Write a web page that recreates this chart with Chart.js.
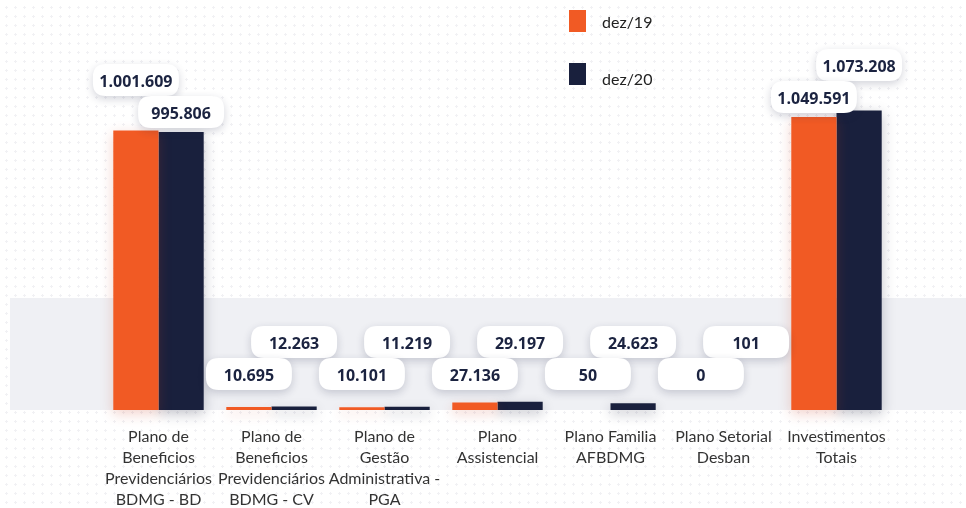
<!DOCTYPE html>
<html lang="pt-BR">
<head>
<meta charset="utf-8">
<title>Investimentos dez/19 x dez/20</title>
<script src="https://cdn.jsdelivr.net/npm/chart.js@4.4.1/dist/chart.umd.min.js"></script>
<style>
  html, body { margin: 0; padding: 0; background: #fff; }
  #wrap {
    position: relative;
    width: 966px;
    height: 508px;
    background-color: #fff;
    background-image: radial-gradient(circle, #f1f1f4 1px, transparent 1.2px);
    background-size: 9px 9px;
    background-position: 11px 3px;
  }
</style>
</head>
<body>
<div id="wrap"><canvas id="grafico" width="966" height="508"></canvas></div>
<script>
// Dados do gráfico
const categorias = [
  ['Plano de', 'Beneficios', 'Previdenciários', 'BDMG - BD'],
  ['Plano de', 'Beneficios', 'Previdenciários', 'BDMG - CV'],
  ['Plano de', 'Gestão', 'Administrativa -', 'PGA'],
  ['Plano', 'Assistencial'],
  ['Plano Familia', 'AFBDMG'],
  ['Plano Setorial', 'Desban'],
  ['Investimentos', 'Totais']
];
const series = ['dez/19', 'dez/20'];
const valoresDez19 = [1001609, 10695, 10101, 27136, 50, 0, 1049591];
const valoresDez20 = [995806, 12263, 11219, 29197, 24623, 101, 1073208];

const LARANJA = '#F15A24';
const AZUL = '#19203D';

function formatar(v) {
  return v.toLocaleString('de-DE');
}

function caixa(ctx, x, y, w, h, r) {
  ctx.beginPath();
  ctx.moveTo(x + r, y);
  ctx.lineTo(x + w - r, y);
  ctx.quadraticCurveTo(x + w, y, x + w, y + r);
  ctx.lineTo(x + w, y + h - r);
  ctx.quadraticCurveTo(x + w, y + h, x + w - r, y + h);
  ctx.lineTo(x + r, y + h);
  ctx.quadraticCurveTo(x, y + h, x, y + h - r);
  ctx.lineTo(x, y + r);
  ctx.quadraticCurveTo(x, y, x + r, y);
  ctx.closePath();
}

// Faixa cinza de fundo
const faixaPlugin = {
  id: 'faixa',
  beforeDatasetsDraw(chart) {
    const ctx = chart.ctx;
    const base = chart.scales.y.getPixelForValue(0);
    ctx.save();
    ctx.fillStyle = '#EFF0F4';
    ctx.fillRect(10, 298, chart.width - 10, base - 298);
    ctx.restore();
  }
};

// Sombra das barras
const sombraPlugin = {
  id: 'sombra',
  beforeDatasetDraw(chart, args) {
    const ctx = chart.ctx;
    ctx.save();
    ctx.shadowColor = args.index === 0 ? 'rgba(200,60,30,0.22)' : 'rgba(20,25,50,0.25)';
    ctx.shadowBlur = 12;
    ctx.shadowOffsetY = 4;
  },
  afterDatasetDraw(chart) {
    chart.ctx.restore();
  }
};

// Rótulos de valor em caixas brancas
const rotulosPlugin = {
  id: 'rotulos',
  afterDatasetsDraw(chart) {
    const ctx = chart.ctx;
    const m0 = chart.getDatasetMeta(0);
    const m1 = chart.getDatasetMeta(1);
    const W = 86, H = 32;

    categorias.forEach((_, i) => {
      const v0 = valoresDez19[i];
      const v1 = valoresDez20[i];
      const b0 = m0.data[i];
      const b1 = m1.data[i];
      // barra menor fica com o rótulo de baixo
      const menor = v0 <= v1 ? 0 : 1;
      const barraMenor = menor === 0 ? b0 : b1;
      const yBaixo = Math.min(barraMenor.y - 19, 375);
      const yCima = yBaixo - 32;
      const itens = [
        { bar: menor === 0 ? b1 : b0, v: menor === 0 ? v1 : v0, y: yCima },
        { bar: barraMenor, v: menor === 0 ? v0 : v1, y: yBaixo }
      ];
      itens.forEach(it => {
        ctx.save();
        ctx.shadowColor = 'rgba(30,35,70,0.20)';
        ctx.shadowBlur = 8;
        ctx.shadowOffsetY = 3;
        ctx.fillStyle = '#fff';
        caixa(ctx, it.bar.x - W / 2, it.y - H / 2 - 1, W, H, 13);
        ctx.fill();
        ctx.restore();

        ctx.save();
        ctx.fillStyle = '#1B2340';
        ctx.font = 'bold 16px "Open Sans"';
        ctx.textAlign = 'center';
        ctx.textBaseline = 'middle';
        ctx.fillText(formatar(it.v), it.bar.x, it.y + 1);
        ctx.restore();
      });
    });
  }
};

// Rótulos das categorias e legenda
const textosPlugin = {
  id: 'textos',
  afterDraw(chart) {
    const ctx = chart.ctx;
    const x = chart.scales.x;
    ctx.save();
    ctx.fillStyle = '#333';
    ctx.font = '16px Lato';
    ctx.textAlign = 'center';
    ctx.textBaseline = 'middle';
    categorias.forEach((linhas, i) => {
      const cx = x.getPixelForValue(i);
      linhas.forEach((l, j) => ctx.fillText(l, cx, 437 + j * 21));
    });

    // legenda
    ctx.textAlign = 'left';
    ctx.fillStyle = LARANJA;
    ctx.fillRect(569, 10, 17, 22);
    ctx.fillStyle = AZUL;
    ctx.fillRect(569, 63, 17, 22);
    ctx.fillStyle = '#222';
    ctx.fillText(series[0], 602, 23);
    ctx.fillText(series[1], 602, 80);
    ctx.restore();
  }
};

new Chart(document.getElementById('grafico'), {
  type: 'bar',
  data: {
    labels: categorias,
    datasets: [
      { label: series[0], data: valoresDez19, backgroundColor: LARANJA, clip: false },
      { label: series[1], data: valoresDez20, backgroundColor: AZUL, clip: false }
    ]
  },
  options: {
    responsive: false,
    animation: false,
    layout: { padding: { left: 102, right: 73, top: 103, bottom: 98 } },
    datasets: { bar: { categoryPercentage: 0.8, barPercentage: 1.0 } },
    scales: {
      x: { display: false },
      y: { display: false, min: 0, max: 1100000 }
    },
    plugins: {
      legend: { display: false },
      tooltip: { enabled: false }
    }
  },
  plugins: [faixaPlugin, sombraPlugin, rotulosPlugin, textosPlugin]
});
</script>
</body>
</html>
